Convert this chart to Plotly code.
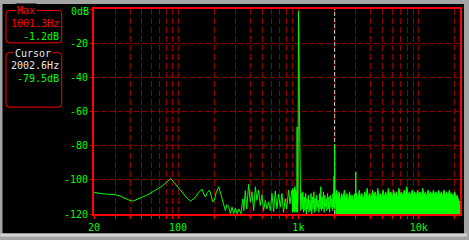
import math
import plotly.graph_objects as go

# ---------------- data ----------------
# low / mid band spectrum (line), Hz and dB
low_freq = [20, 22, 24, 27, 30, 33, 36, 39, 42, 46, 50, 55, 61, 67, 74, 80, 87, 95, 103, 112,
            120, 127, 133, 139, 148, 158, 164, 169, 175, 182, 188, 194, 200, 208, 218, 224, 232, 240,
            247, 255, 263, 272, 281, 290, 300, 310, 320, 333, 345, 352, 362, 372, 386, 398, 411, 425,
            439, 452, 467, 482, 498, 514, 531, 548, 566, 585, 603, 623, 643, 663, 685, 707, 730, 752,
            778, 800, 829, 850, 870, 885, 893, 900, 908, 916, 924, 932, 940, 948, 956, 963, 970, 976,
            983, 992, 1001.3, 1010, 1020, 1030, 1045, 1060, 1075, 1090, 1105, 1120, 1135, 1150, 1165,
            1180, 1195, 1210, 1225, 1240, 1258, 1275, 1292, 1310, 1328, 1346, 1364, 1382, 1400, 1420,
            1440, 1460, 1480, 1500, 1518, 1537, 1556, 1576, 1596, 1617, 1638, 1660, 1682, 1704, 1726,
            1748, 1771, 1794, 1818, 1842, 1866, 1890, 1915, 1940, 1962, 1978, 1990, 2002.6, 2015, 2030]
low_db = [-107.4, -107.6, -108.2, -108.5, -108.7, -109.5, -110.8, -111.8, -112.5, -111.5, -110.2,
          -109.0, -107.4, -105.5, -103.5, -101.5, -99.3, -102.5, -105.5, -108.3, -111.0, -112.5,
          -111.5, -110.2, -107.5, -105.5, -108.5, -110.0, -107.5, -106.0, -109.0, -113.0, -112.0,
          -107.0, -104.1, -107.0, -112.0, -115.0, -118.0, -114.5, -115.5, -119.7, -116.0, -119.8,
          -116.5, -119.8, -117.0, -119.8, -111.2, -118.0, -106.4, -117.0, -102.6, -113.0, -107.0,
          -118.0, -104.0, -112.0, -106.0, -115.0, -108.7, -118.0, -112.0, -117.0, -112.9, -118.0,
          -108.0, -118.5, -106.5, -117.0, -108.3, -116.0, -108.0, -119.0, -111.0, -117.0, -106.0,
          -114.0, -110.0, -106.0, -119.0, -105.0, -118.0, -106.0, -119.0, -104.0, -118.0, -106.0,
          -119.0, -107.0, -118.0, -69.0, -119.0, -112.0, -1.2, -16.0, -58.6, -113.0, -118.0, -108.0,
          -117.0, -107.0, -119.0, -110.0, -118.0, -108.0, -120.0, -111.0, -117.0, -109.0, -119.0,
          -112.0, -118.0, -108.0, -120.0, -110.0, -117.0, -107.0, -119.0, -111.0, -118.0, -109.0,
          -116.0, -112.0, -119.0, -108.0, -117.0, -104.0, -118.0, -110.0, -117.0, -107.0, -119.0,
          -109.0, -116.0, -111.0, -118.0, -108.0, -117.0, -110.0, -119.0, -109.0, -116.0, -111.0,
          -118.0, -108.0, -116.0, -98.0, -117.0, -79.5, -114.0, -110.0]

# high band spectrum (dense, drawn filled), Hz and top envelope dB
hf_freq = [2030, 2080, 2130, 2180, 2240, 2290, 2350, 2410, 2470, 2530, 2600, 2660, 2730, 2800,
           2870, 2940, 2990, 3000, 3010, 3050, 3130, 3210, 3290, 3370, 3460, 3550, 3640, 3730,
           3830, 3920, 4020, 4130, 4230, 4340, 4450, 4570, 4680, 4800, 4930, 5050, 5180, 5320,
           5450, 5590, 5740, 5880, 6030, 6190, 6350, 6510, 6680, 6850, 7020, 7200, 7390, 7580,
           7770, 7970, 8180, 8390, 8600, 8820, 9050, 9280, 9520, 9770, 10020, 10280, 10540, 10810,
           11090, 11380, 11670, 11970, 12280, 12590, 12920, 13250, 13590, 13940, 14300, 14660,
           15040, 15430, 15820, 16230, 16650, 17080, 17520, 17970, 18430, 18900, 19390, 19890,
           20400, 20920, 21460, 22050]
hf_db = [-110, -106, -112, -107, -113, -108, -111, -106, -112, -108, -113, -107, -111, -109,
         -113, -108, -111, -95.3, -111, -108, -112, -106, -111, -108, -113, -107, -110, -105,
         -111, -108, -112, -106, -110, -107, -112, -105, -110, -108, -111, -106, -110, -107,
         -111, -105, -109, -107, -111, -106, -110, -107, -111, -105, -109, -107, -110, -106,
         -109, -104, -109, -107, -110, -106, -109, -107, -110, -106, -109, -107, -110, -105,
         -109, -107, -110, -106, -109, -107, -110, -106, -109, -107, -110, -106,
         -109, -107, -110, -106, -109, -107, -110, -106, -109, -108, -111, -107,
         -110, -109, -112, -113]
assert len(low_freq) == len(low_db)
assert len(hf_freq) == len(hf_db)

floor_db = -120
cursor_freq = 2002.6

x_tickvals = [20, 30, 40, 50, 60, 70, 80, 90, 100, 200, 300, 400, 500, 600, 700, 800, 900,
              1000, 2000, 3000, 4000, 5000, 6000, 7000, 8000, 9000, 10000, 20000]
x_ticklabels = {20: "20", 100: "100", 1000: "1k", 10000: "10k"}
y_tickvals = [-120, -100, -80, -60, -40, -20, 0]
y_ticktext = ["-120", "-100", "-80", "-60", "-40", "-20", ""]

# ---------------- layout helpers (pixel -> paper) ----------------
W, H = 469, 240
L, R, T, B = 94, 462, 8, 217
def px(x):
    return (x - L) / (R - L)
def py(y):
    return (B - y) / (B - T)

def rounded(x0, y0, x1, y1, r):
    pts = [("M", [(x0 + r, y0)]), ("L", [(x1 - r, y0)]), ("Q", [(x1, y0), (x1, y0 + r)]),
           ("L", [(x1, y1 - r)]), ("Q", [(x1, y1), (x1 - r, y1)]), ("L", [(x0 + r, y1)]),
           ("Q", [(x0, y1), (x0, y1 - r)]), ("L", [(x0, y0 + r)]), ("Q", [(x0, y0), (x0 + r, y0)])]
    s = ""
    for cmd, ps in pts:
        s += cmd + " " + " ".join(f"{px(a):.5f},{py(b):.5f}" for a, b in ps) + " "
    return s + "Z"

GREEN = "#00ff00"
RED = "#ff0000"
GRID = "#8c0000"
FONT = "DejaVu Sans Mono"

fig = go.Figure()

# cursor line
fig.add_trace(go.Scatter(x=[cursor_freq, cursor_freq], y=[floor_db, 0], mode="lines",
                         line=dict(color="#d0d0d0", width=1, dash="4px,2px"),
                         hoverinfo="skip", showlegend=False))
# baseline for the filled band
fig.add_trace(go.Scatter(x=[hf_freq[0], hf_freq[-1]], y=[floor_db, floor_db], mode="lines",
                         line=dict(width=0, color=GREEN), hoverinfo="skip", showlegend=False))
fig.add_trace(go.Scatter(x=hf_freq, y=hf_db, mode="lines", fill="tonexty", fillcolor=GREEN,
                         line=dict(color=GREEN, width=1), showlegend=False))
fig.add_trace(go.Scatter(x=low_freq, y=low_db, mode="lines",
                         line=dict(color=GREEN, width=1), showlegend=False))

shapes = [
    dict(type="rect", xref="paper", yref="paper", x0=px(2), x1=px(466), y0=py(3), y1=py(237),
         fillcolor="black", line=dict(width=0), layer="below"),
    dict(type="rect", xref="paper", yref="paper", x0=px(0), x1=px(469), y0=py(237), y1=py(240),
         fillcolor="#d4d4d4", line=dict(width=0), layer="below"),
    dict(type="path", xref="paper", yref="paper", path=rounded(5.5, 9.5, 61.5, 42.5, 3),
         line=dict(color=RED, width=1)),
    dict(type="path", xref="paper", yref="paper", path=rounded(5.5, 52.5, 61.5, 108, 3),
         line=dict(color=RED, width=1)),
]

def ann(text, x, y, color, anchor="right"):
    return dict(text=text, xref="paper", yref="paper", x=px(x), y=py(y), xanchor=anchor,
                yanchor="middle", showarrow=False, font=dict(family=FONT, size=10, color=color))

annotations = [
    ann("1001.3Hz", 61, 23, RED),
    ann("-1.2dB", 61, 36, GREEN),
    ann("2002.6Hz", 61, 66, "#e8e8e8"),
    ann("-79.5dB", 61, 78.5, GREEN),
    ann("0dB", 91, 11, GREEN),
]
a = ann("Max", 25.5, 10, RED, "center"); a["bgcolor"] = "black"; annotations.append(a)
a = ann("Cursor", 33, 53, "#e8e8e8", "center"); a["bgcolor"] = "black"; annotations.append(a)

fig.update_layout(
    width=W, height=H, margin=dict(l=L, r=W - R, t=T, b=H - B, pad=0),
    paper_bgcolor="#a4a4a4", plot_bgcolor="black",
    shapes=shapes, annotations=annotations,
    xaxis=dict(type="log", range=[math.log10(20), math.log10(22050)],
               tickvals=x_tickvals, ticktext=[x_ticklabels.get(v, "") for v in x_tickvals],
               showgrid=True, gridcolor=GRID, gridwidth=1, griddash="6px,3px",
               ticks="outside", ticklen=3, tickcolor=RED, tickwidth=1,
               tickfont=dict(family=FONT, size=10, color=GREEN),
               showline=True, linecolor=RED, linewidth=2, mirror=True, zeroline=False),
    yaxis=dict(range=[-120, 0], tickvals=y_tickvals, ticktext=y_ticktext,
               showgrid=True, gridcolor=GRID, gridwidth=1, griddash="5px,3px",
               ticks="outside", ticklen=2, tickcolor=RED, tickwidth=1,
               tickfont=dict(family=FONT, size=10, color=GREEN),
               showline=True, linecolor=RED, linewidth=2, mirror=True, zeroline=False),
)

fig.write_html("out.html")
